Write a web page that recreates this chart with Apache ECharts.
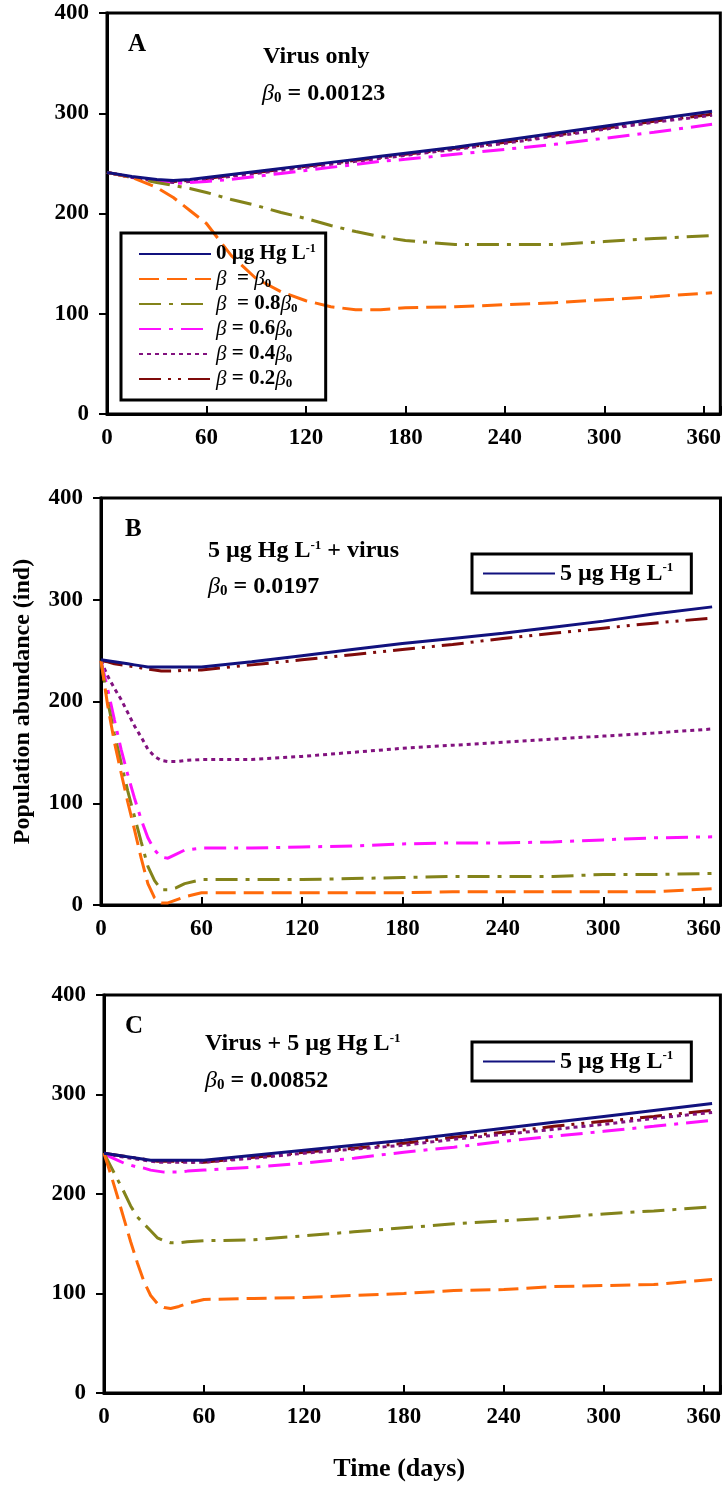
<!DOCTYPE html>
<html>
<head>
<meta charset="utf-8">
<script src="https://cdn.jsdelivr.net/npm/echarts@6/dist/echarts.min.js"></script>
<style>
  html, body { margin: 0; padding: 0; background: #fff; }
  #main { width: 724px; height: 1489px; }
</style>
</head>
<body>
<div id="main"></div>
<script>
// x values (days)
const daysA = [0, 15, 30, 40, 50, 60, 75, 90, 105, 120, 135, 150, 165, 180, 210, 240, 270, 300, 330, 365];
const daysBC = [0, 4, 8, 12, 16, 20, 24, 28, 32, 36, 40, 45, 50, 60, 90, 120, 150, 180, 210, 240, 270, 300, 330, 365];

// panel A: virus only
const a_ctrl = [241, 237, 234, 233, 234, 236, 239, 242, 245, 248, 251, 254, 257, 260, 266, 273, 280, 287, 294, 302];
const a_b10 = [241, 236, 226, 216, 203, 190, 158, 135, 122, 113, 107, 104, 104, 106, 107, 109, 111, 114, 117, 121];
const a_b08 = [241, 236, 231, 228, 225, 221, 214, 208, 201, 195, 188, 182, 177, 173, 169, 169, 169, 172, 175, 178];
const a_b06 = [241, 236, 232, 230, 231, 232, 234, 237, 240, 243, 246, 249, 252, 254, 259, 264, 269, 275, 281, 289];
const a_b04 = [241, 236, 232, 231, 232, 234, 237, 240, 243, 246, 249, 252, 255, 258, 264, 270, 277, 284, 291, 298];
const a_b02 = [241, 236, 233, 232, 233, 235, 238, 241, 244, 247, 250, 253, 256, 259, 265, 271, 278, 285, 292, 299];

// panel B: 5 ug Hg + virus
const b_ctrl = [241, 240, 239, 238, 237, 236, 235, 234, 234, 234, 234, 234, 234, 234, 239, 245, 251, 257, 262, 267, 273, 279, 286, 293];
const b_b10 = [240, 196, 160, 130, 101, 74, 46, 21, 7, 2, 2, 5, 8, 12, 12, 12, 12, 12, 13, 13, 13, 13, 13, 16];
const b_b08 = [240, 200, 168, 140, 112, 87, 62, 38, 24, 15, 15, 17, 21, 25, 25, 25, 26, 27, 28, 28, 28, 30, 30, 31];
const b_b06 = [240, 212, 182, 153, 128, 105, 84, 66, 54, 47, 46, 50, 54, 56, 56, 57, 58, 60, 61, 61, 62, 64, 66, 67];
const b_b04 = [240, 225, 213, 202, 189, 176, 165, 153, 146, 142, 141, 141, 142, 143, 143, 146, 150, 154, 157, 160, 163, 166, 169, 173];
const b_b02 = [240, 239, 237, 236, 235, 234, 233, 232, 231, 230, 230, 230, 231, 231, 236, 241, 246, 251, 256, 262, 267, 272, 277, 282];

// panel C: virus + 5 ug Hg
const c_ctrl = [241, 240, 239, 238, 237, 236, 235, 234, 234, 234, 234, 234, 234, 234, 239, 244, 249, 254, 260, 266, 272, 278, 284, 291];
const c_b10 = [241, 220, 198, 175, 152, 131, 112, 98, 90, 86, 85, 87, 90, 94, 95, 96, 98, 100, 103, 104, 107, 108, 109, 114];
const c_b08 = [241, 228, 215, 202, 188, 177, 170, 163, 156, 153, 151, 151, 152, 153, 154, 158, 162, 166, 170, 173, 176, 180, 183, 187];
const c_b06 = [241, 237, 234, 231, 229, 227, 226, 224, 223, 222, 222, 222, 223, 224, 227, 231, 236, 242, 247, 253, 258, 263, 268, 274];
const c_b04 = [241, 240, 238, 237, 236, 235, 234, 233, 232, 232, 232, 232, 232, 232, 236, 241, 245, 249, 255, 260, 265, 270, 276, 282];
const c_b02 = [241, 240, 239, 238, 237, 236, 235, 234, 233, 233, 233, 233, 232, 232, 237, 242, 246, 251, 257, 262, 268, 273, 278, 284];

const xTicks = [0, 60, 120, 180, 240, 300, 360];
const yTicks = [0, 100, 200, 300, 400];

const names = ['β = β0', 'β = 0.8β0', 'β = 0.6β0', 'β = 0.4β0', 'β = 0.2β0'];
const ctrlA = '0 µg Hg L-1';
const ctrlBC = '5 µg Hg L-1';

const serif = 'Liberation Serif, Times New Roman, serif';
const styles = {
  ctrl: { color: '#11117e', type: 'solid' },
  b10: { color: '#ff6a0a', type: [20, 8] },
  b08: { color: '#83831a', type: [22, 8, 4, 8] },
  b06: { color: '#ff10ff', type: [22, 8, 4, 8] },
  b04: { color: '#82127f', type: [4, 4] },
  b02: { color: '#7f0a0a', type: [22, 7, 3, 7, 3, 7] }
};

function richFor(size) {
  return {
    i: { fontFamily: serif, fontStyle: 'italic', fontWeight: 'normal', fontSize: size, color: '#000' },
    sub: { fontFamily: serif, fontWeight: 'bold', fontSize: Math.round(size * 0.62), verticalAlign: 'bottom', color: '#000' },
    sup: { fontFamily: serif, fontWeight: 'bold', fontSize: Math.round(size * 0.56), verticalAlign: 'top', color: '#000' }
  };
}

const legendText = {
  '0 µg Hg L-1': '0 µg Hg L{sup|-1}',
  '5 µg Hg L-1': '5 µg Hg L{sup|-1}',
  'β = β0': '{i|β}  = {i|β}{sub|0}',
  'β = 0.8β0': '{i|β}  = 0.8{i|β}{sub|0}',
  'β = 0.6β0': '{i|β} = 0.6{i|β}{sub|0}',
  'β = 0.4β0': '{i|β} = 0.4{i|β}{sub|0}',
  'β = 0.2β0': '{i|β} = 0.2{i|β}{sub|0}'
};

function pairs(days, vals) {
  return days.map((d, i) => [d, vals[i]]);
}

function mkSeries(idx, days, ctrlName, list) {
  const keys = ['ctrl', 'b10', 'b08', 'b06', 'b04', 'b02'];
  const order = [0, 5, 4, 3, 2, 1];
  const out = [];
  order.forEach(k => {
    out.push({
      name: k === 0 ? ctrlName : names[k - 1],
      type: 'line',
      xAxisIndex: idx,
      yAxisIndex: idx,
      symbol: 'none',
      smooth: false,
      z: k === 0 ? 5 : 3,
      lineStyle: { width: 3, color: styles[keys[k]].color, type: styles[keys[k]].type },
      itemStyle: { color: styles[keys[k]].color },
      data: pairs(days, list[k])
    });
  });
  return out;
}

const grids = [
  { left: 107, top: 13, width: 614, height: 401 },
  { left: 101, top: 498, width: 620, height: 407 },
  { left: 104, top: 995, width: 617, height: 398 }
];

const labelStyle = { fontFamily: serif, fontWeight: 'bold', fontSize: 23, color: '#000' };

function xAxis(i) {
  const ax = {
    type: 'value', gridIndex: i, min: 0, max: 370, interval: 60,
    axisLine: { show: true, lineStyle: { color: '#000', width: 3 } },
    axisTick: { show: true, inside: true, length: 8, lineStyle: { color: '#000', width: 2 } },
    axisLabel: Object.assign({ margin: 13, formatter: v => (xTicks.indexOf(v) >= 0 ? String(v) : '') }, labelStyle),
    splitLine: { show: false }
  };
  if (i === 2) {
    ax.name = 'Time (days)';
    ax.nameLocation = 'middle';
    ax.nameGap = 63;
    ax.nameTextStyle = { fontFamily: serif, fontWeight: 'bold', fontSize: 26, color: '#000', padding: [0, 26, 0, 0] };
  }
  return ax;
}

function yAxis(i) {
  const ax = {
    type: 'value', gridIndex: i, min: 0, max: 400, interval: 100,
    axisLine: { show: true, lineStyle: { color: '#000', width: 3 } },
    axisTick: { show: true, inside: false, length: 8, lineStyle: { color: '#000', width: 2 } },
    axisLabel: Object.assign({ margin: 18, formatter: v => (yTicks.indexOf(v) >= 0 ? String(v) : '') }, labelStyle),
    splitLine: { show: false }
  };
  if (i === 1) {
    ax.name = 'Population abundance (ind)';
    ax.nameLocation = 'middle';
    ax.nameGap = 66;
    ax.nameTextStyle = { fontFamily: serif, fontWeight: 'bold', fontSize: 24, color: '#000' };
  }
  return ax;
}

function note(text, left, top, size) {
  return {
    text: text, left: left, top: top, padding: 0,
    textStyle: { fontFamily: serif, fontWeight: 'bold', fontSize: size, color: '#000', rich: richFor(size) }
  };
}

const legendBase = {
  orient: 'vertical',
  itemWidth: 72,
  itemHeight: 14,
  borderColor: '#000',
  borderWidth: 3,
  borderRadius: 0,
  selectedMode: false,
  itemStyle: { opacity: 0 },
  formatter: n => legendText[n] || n
};

const option = {
  animation: false,
  backgroundColor: '#fff',
  title: [
    note('A', 128, 32, 25),
    note('Virus only', 263, 45, 24),
    note('{i|β}{sub|0} = 0.00123', 262, 82, 24),
    note('B', 125, 517, 25),
    note('5 µg Hg L{sup|-1} + virus', 208, 539, 24),
    note('{i|β}{sub|0} = 0.0197', 208, 575, 24),
    note('C', 125, 1014, 25),
    note('Virus + 5 µg Hg L{sup|-1}', 205, 1032, 24),
    note('{i|β}{sub|0} = 0.00852', 205, 1069, 24)
  ],
  legend: [
    Object.assign({}, legendBase, {
      left: 121, top: 233, itemGap: 3, itemTextGap: 9,
      padding: [10, 10, 10, 17],
      textStyle: { fontFamily: serif, fontWeight: 'bold', fontSize: 21, color: '#000', lineHeight: 22, rich: richFor(21) },
      data: [ctrlA].concat(names)
    }),
    Object.assign({}, legendBase, {
      left: 472, top: 554, itemTextGap: 10,
      padding: [7, 18, 7, 10],
      textStyle: { fontFamily: serif, fontWeight: 'bold', fontSize: 24, color: '#000', lineHeight: 25, rich: richFor(24) },
      data: [ctrlBC]
    }),
    Object.assign({}, legendBase, {
      left: 472, top: 1042, itemTextGap: 10,
      padding: [7, 18, 7, 10],
      textStyle: { fontFamily: serif, fontWeight: 'bold', fontSize: 24, color: '#000', lineHeight: 25, rich: richFor(24) },
      data: [ctrlBC]
    })
  ],
  grid: grids.map(g => Object.assign({ show: true, borderColor: '#000', borderWidth: 3, backgroundColor: 'transparent' }, g)),
  xAxis: [xAxis(0), xAxis(1), xAxis(2)],
  yAxis: [yAxis(0), yAxis(1), yAxis(2)],
  series: []
    .concat(mkSeries(0, daysA, ctrlA, [a_ctrl, a_b10, a_b08, a_b06, a_b04, a_b02]))
    .concat(mkSeries(1, daysBC, ctrlBC, [b_ctrl, b_b10, b_b08, b_b06, b_b04, b_b02]))
    .concat(mkSeries(2, daysBC, ctrlBC, [c_ctrl, c_b10, c_b08, c_b06, c_b04, c_b02]))
};

const chart = echarts.init(document.getElementById('main'), null, { renderer: 'canvas' });
chart.setOption(option);
</script>
</body>
</html>
